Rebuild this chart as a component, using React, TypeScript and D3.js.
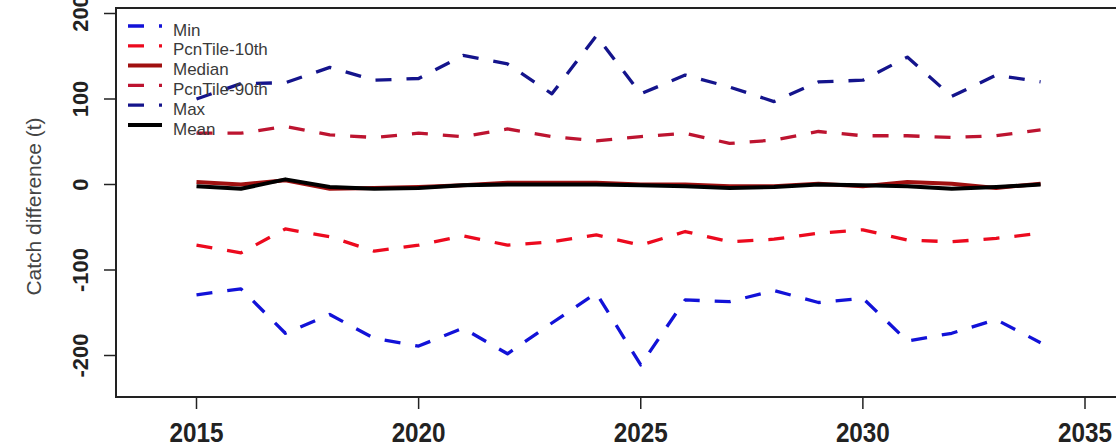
import React from "react";
import * as d3 from "d3";

const years = d3.range(2015, 2035);
const minVals = [-129, -122, -174, -152, -180, -189, -168, -198, -162, -127, -211, -135, -137, -124, -138, -133, -183, -174, -158, -185];
const p10Vals = [-71, -80, -52, -61, -78, -71, -60, -71, -67, -59, -71, -55, -67, -64, -57, -53, -65, -67, -63, -57];
const medianVals = [3, 0, 5, -5, -4, -3, -1, 2, 2, 2, 0, 0, -2, -2, 1, -2, 3, 1, -4, 1];
const p90Vals = [60, 60, 68, 58, 55, 60, 56, 65, 56, 51, 56, 60, 48, 52, 62, 57, 57, 55, 57, 64];
const maxVals = [100, 118, 119, 137, 122, 124, 151, 141, 106, 174, 106, 128, 114, 97, 120, 122, 149, 103, 128, 120];
const meanVals = [-2, -5, 6, -3, -5, -4, -1, 0, 0, 0, -1, -2, -4, -3, 0, -1, -2, -5, -3, 0];

const xTicks = [2015, 2020, 2025, 2030, 2035];
const yTicks = [-200, -100, 0, 100, 200];
const legendLabels = ["Min", "PcnTile-10th", "Median", "PcnTile-90th", "Max", "Mean"];

const seriesList = [
  { name: "Min", values: minVals, color: "#1212d8", dash: "16,15", width: 3.3 },
  { name: "PcnTile-10th", values: p10Vals, color: "#ec0a1e", dash: "16,15", width: 3.3 },
  { name: "Median", values: medianVals, color: "#a01010", dash: null, width: 4 },
  { name: "PcnTile-90th", values: p90Vals, color: "#bd1430", dash: "16,15", width: 3.3 },
  { name: "Max", values: maxVals, color: "#14148c", dash: "16,15", width: 3.3 },
  { name: "Mean", values: meanVals, color: "#000000", dash: null, width: 4 },
];

export default function App() {
  const W = 1116;
  const H = 447;
  const box = { left: 116, top: 8, right: 1168, bottom: 397 };
  const x = d3.scaleLinear().domain([2015, 2035]).range([196.5, 1085]);
  const y = d3.scaleLinear().domain([-200, 200]).range([355.5, 13.5]);
  const line = d3
    .line<number>()
    .x((_, i) => x(years[i]))
    .y((d) => y(d));

  return (
    <svg
      width={W}
      height={H}
      style={{ position: "absolute", left: 0, top: 0, background: "#fff" }}
      fontFamily="'Liberation Sans', Arial, sans-serif"
    >
      <defs>
        <clipPath id="plotclip">
          <rect x={box.left} y={box.top} width={box.right - box.left} height={box.bottom - box.top} />
        </clipPath>
      </defs>
      <rect x={0} y={0} width={W} height={H} fill="#fff" />

      <g clipPath="url(#plotclip)">
        {seriesList.map((s) => (
          <path
            key={s.name}
            d={line(s.values) || ""}
            fill="none"
            stroke={s.color}
            strokeWidth={s.width}
            strokeDasharray={s.dash || undefined}
            strokeLinejoin="round"
          />
        ))}
      </g>

      {/* legend */}
      {legendLabels.map((lab, i) => {
        const s = seriesList.find((d) => d.name === lab)!;
        const ly = 26 + i * 19.8;
        return (
          <g key={lab}>
            <line
              x1={128}
              x2={162}
              y1={ly}
              y2={ly}
              stroke={s.color}
              strokeWidth={s.width}
              strokeDasharray={s.dash || undefined}
            />
            <text x={173} y={ly + 9.5} fontSize={17} fill="#3a3a3a">
              {lab}
            </text>
          </g>
        );
      })}

      {/* box */}
      <rect
        x={box.left}
        y={box.top}
        width={box.right - box.left}
        height={box.bottom - box.top}
        fill="none"
        stroke="#222"
        strokeWidth={2}
      />

      {/* y axis */}
      {yTicks.map((t) => (
        <g key={t}>
          <line x1={box.left - 12} x2={box.left} y1={y(t)} y2={y(t)} stroke="#222" strokeWidth={1.5} />
          <text
            transform={`translate(${box.left - 28},${y(t)}) rotate(-90)`}
            textAnchor="middle"
            fontSize={22}
            fontWeight="bold"
            fill="#222"
          >
            {t}
          </text>
        </g>
      ))}
      <text
        transform={`translate(41,${(box.top + box.bottom) / 2 + 4}) rotate(-90)`}
        textAnchor="middle"
        fontSize={21}
        fill="#444"
      >
        Catch difference (t)
      </text>

      {/* x axis */}
      {xTicks.map((t) => (
        <g key={t}>
          <line x1={x(t)} x2={x(t)} y1={box.bottom} y2={box.bottom + 12} stroke="#222" strokeWidth={1.5} />
          <text
            x={x(t)}
            y={442}
            textAnchor="middle"
            fontSize={28}
            fontWeight="bold"
            fill="#222"
            textLength={54}
            lengthAdjust="spacingAndGlyphs"
          >
            {t}
          </text>
        </g>
      ))}
    </svg>
  );
}
